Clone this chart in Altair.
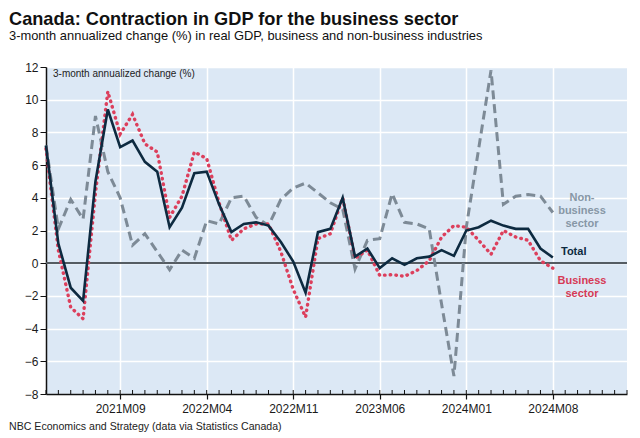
import altair as alt
import pandas as pd

# ---- data -------------------------------------------------------------
def month_labels(y0, m0, n):
    out = []
    y, m = y0, m0
    for _ in range(n):
        out.append(f"{y}M{m:02d}")
        m += 1
        if m > 12:
            m = 1
            y += 1
    return out

axis_months = month_labels(2021, 3, 48)          # 2021M03 .. 2025M02
months = month_labels(2021, 3, 42)               # 2021M03 .. 2024M08
major_ticks = ["2021M09", "2022M04", "2022M11", "2023M06", "2024M01", "2024M08"]

total = [7.2, 1.2, -1.5, -2.3, 5.0, 9.4, 7.1, 7.5, 6.2, 5.6,
         2.2, 3.4, 5.5, 5.6, 3.6, 1.9, 2.4, 2.5, 2.3, 1.3,
         0.1, -1.8, 1.9, 2.1, 4.0, 0.4, 0.9, -0.3, 0.3, -0.1,
         0.3, 0.4, 0.8, 0.45, 2.0, 2.2, 2.6, 2.3, 2.1, 2.1,
         0.9, 0.35]
business = [7.0, 0.8, -2.7, -3.4, 4.3, 10.5, 7.9, 9.1, 7.3, 6.8,
            2.8, 4.1, 6.8, 6.4, 3.7, 1.4, 2.1, 2.4, 2.4, 0.7,
            -1.6, -3.3, 1.5, 1.8, 4.0, 0.3, 0.8, -0.75, -0.7, -0.8,
            -0.45, 0.15, 1.6, 2.3, 2.2, 1.4, 0.55, 2.0, 1.6, 1.4,
            0.15, -0.3]
non_business = [7.2, 2.1, 3.9, 2.7, 9.0, 5.6, 4.0, 1.1, 1.8, 0.7,
                -0.4, 0.8, 0.3, 2.6, 2.4, 4.0, 4.1, 2.8, 2.3, 3.9,
                4.6, 4.9, 4.3, 3.7, 3.3, -0.35, 1.4, 1.5, 4.25, 2.5,
                2.4, 2.1, -2.5, -6.9, 2.2, 7.0, 11.8, 3.6, 4.1, 4.2,
                4.1, 3.1]
y_ticks = [-8, -6, -4, -2, 0, 2, 4, 6, 8, 10, 12]

title = "Canada: Contraction in GDP for the business sector"
subtitle = "3-month annualized change (%) in real GDP, business and non-business industries"
footer = "NBC Economics and Strategy (data via Statistics Canada)"
inner_label = "3-month annualized change (%)"

# ---- frames -----------------------------------------------------------
df = pd.DataFrame({"month": months, "total": total,
                   "business": business, "nonbusiness": non_business})
ticks_df = pd.DataFrame({"month": axis_months})

W, H = 581, 327
FONT = "Liberation Sans"

x_scale = alt.Scale(type="point", domain=axis_months, padding=0)
y_scale = alt.Scale(domain=[-8, 12], nice=False, zero=False)

x_axis = alt.Axis(values=major_ticks, title=None, labelAngle=0, labelFontSize=12,
                  labelColor="#1a1a1a", tickSize=5, tickColor="#111", tickWidth=1.2,
                  domainColor="#111", domainWidth=1.5, labelPadding=4,
                  grid=True, gridColor="#ffffff", gridWidth=1.5, labelFont=FONT)
y_axis = alt.Axis(values=y_ticks, title=None, labelFontSize=12, labelColor="#1a1a1a",
                  tickSize=6, tickColor="#111", domainColor="#111", domainWidth=1.5,
                  labelPadding=2, grid=True, gridColor="#ffffff", gridWidth=1.5,
                  labelFont=FONT, labelOverlap=False)

base = alt.Chart(df)

nonbus_line = base.mark_line(color="#7d8a96", strokeWidth=3, strokeDash=[9, 5]).encode(
    x=alt.X("month:O", scale=x_scale, axis=x_axis, sort=axis_months),
    y=alt.Y("nonbusiness:Q", scale=y_scale, axis=y_axis))

zero_line = base.mark_rule(color="#555c63", strokeWidth=1.6).encode(
    y=alt.Y(datum=0, scale=y_scale, axis=y_axis), x=alt.value(0), x2=alt.value(W))

bus_line = base.mark_line(color="#dc3f5c", strokeWidth=3.4, strokeDash=[0.5, 5.2],
                          strokeCap="round").encode(
    x=alt.X("month:O", scale=x_scale, axis=x_axis, sort=axis_months),
    y=alt.Y("business:Q", scale=y_scale, axis=y_axis))

total_line = base.mark_line(color="#0d2a40", strokeWidth=2.6).encode(
    x=alt.X("month:O", scale=x_scale, axis=x_axis, sort=axis_months),
    y=alt.Y("total:Q", scale=y_scale, axis=y_axis))

minor = alt.Chart(ticks_df).mark_rule(color="#111", strokeWidth=1).encode(
    x=alt.X("month:O", scale=x_scale, axis=x_axis, sort=axis_months),
    y=alt.value(H), y2=alt.value(H - 4))

def txt(s, x, y, size, weight="normal", color="#111", align="left", baseline="alphabetic",
        line_height=None):
    props = dict(text=s, fontSize=size, fontWeight=weight, color=color, align=align,
                 baseline=baseline, font=FONT)
    if line_height:
        props["lineHeight"] = line_height
    return alt.Chart(pd.DataFrame({"k": [0]})).mark_text(**props).encode(
        x=alt.value(x), y=alt.value(y))

texts = [
    txt(title, -37, -42.5, 18.2, weight="bold", color="#111"),
    txt(subtitle, -37, -26.8, 12.9, color="#111"),
    txt(footer, -37, 362.5, 10.6, color="#222"),
    txt(inner_label, 7, 10, 10, color="#222"),
    txt(["Non-", "business", "sector"], 536, 131, 11, weight="bold", color="#8797a6",
        align="center", baseline="middle", line_height=13),
    txt("Total", 515, 185, 11, weight="bold", color="#0d2a40", baseline="middle"),
    txt(["Business", "sector"], 536, 214, 11, weight="bold", color="#d63a55",
        align="center", baseline="middle", line_height=13),
]

chart = alt.layer(zero_line, nonbus_line, bus_line, total_line, minor, *texts).properties(
    width=W, height=H,
    padding={"left": 38, "top": 59, "right": 5, "bottom": 44},
    autosize=alt.AutoSizeParams(type="none"),
).configure_view(fill="#dce8f5", stroke=None)

chart.save("out.html", embed_options={"renderer": "svg", "actions": False})
